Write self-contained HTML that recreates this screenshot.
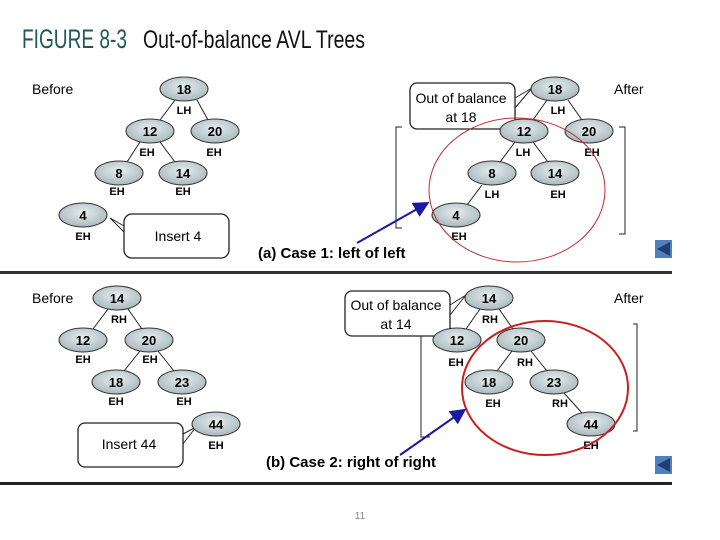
<!DOCTYPE html>
<html><head><meta charset="utf-8"><style>
html,body{margin:0;padding:0;background:#fff;}
svg{display:block;}
text{font-family:"Liberation Sans",sans-serif;}
.n{font-weight:bold;font-size:13px;text-anchor:middle;}
.b{font-weight:bold;font-size:11px;text-anchor:middle;}
.t{font-size:14px;}
</style></head><body>
<svg width="720" height="540" viewBox="0 0 720 540" xmlns="http://www.w3.org/2000/svg">
<defs>
<radialGradient id="g" cx="50%" cy="40%" r="60%">
<stop offset="0" stop-color="#e6eef0"/><stop offset="1" stop-color="#a9b8bd"/>
</radialGradient>
<marker id="ar" markerWidth="8" markerHeight="8" refX="6" refY="4" orient="auto"><path d="M0,0 L8,4 L0,8 z" fill="#1a1aa0"/></marker>
</defs>
<text x="22" y="48" font-size="27" fill="#1e5a5c" textLength="105" lengthAdjust="spacingAndGlyphs">FIGURE 8-3</text>
<text x="143" y="48" font-size="25" fill="#111" textLength="222" lengthAdjust="spacingAndGlyphs">Out-of-balance AVL Trees</text>

<g stroke="#222" stroke-width="1" fill="none">
<line x1="175" y1="100" x2="160" y2="120"/><line x1="197" y1="100" x2="208" y2="120"/>
<line x1="140" y1="142" x2="127" y2="162"/><line x1="160" y1="142" x2="175" y2="162"/>
<line x1="547" y1="100" x2="533" y2="120"/><line x1="568" y1="100" x2="582" y2="120"/>
<line x1="515" y1="142" x2="500" y2="162"/><line x1="533" y1="142" x2="548" y2="162"/>
<line x1="482" y1="185" x2="467" y2="205"/>
<line x1="108" y1="309" x2="93" y2="329"/><line x1="128" y1="309" x2="142" y2="329"/>
<line x1="140" y1="351" x2="124" y2="371"/><line x1="158" y1="351" x2="174" y2="371"/>
<line x1="480" y1="309" x2="466" y2="329"/><line x1="499" y1="309" x2="513" y2="329"/>
<line x1="512" y1="351" x2="497" y2="371"/><line x1="531" y1="351" x2="547" y2="371"/>
<line x1="564" y1="393" x2="582" y2="413"/>
<path d="M402 127 H396 V228 H402"/><path d="M619 127 H625 V234 H619"/>
<path d="M421 336 V437 H430"/><path d="M633 324 H637 V431 H633"/>
<rect x="124" y="214" width="105" height="44" rx="8" stroke-width="1.3"/>
<path d="M124 226 L110 218 L124 232" />
<rect x="410" y="83" width="105" height="46" rx="7" stroke-width="1.3"/>
<path d="M515 98 L532 88 L515 108"/>
<rect x="78" y="423" width="105" height="44" rx="7" stroke-width="1.3"/>
<path d="M183 434 L196 427 L183 444"/>
<rect x="345" y="291" width="105" height="45" rx="7" stroke-width="1.3"/>
<path d="M450 305 L466 295 L450 315"/>
</g>

<g fill="url(#g)" stroke="#333" stroke-width="1">
<ellipse cx="184" cy="89" rx="24" ry="12"/><ellipse cx="150" cy="131" rx="24" ry="12"/>
<ellipse cx="215" cy="131" rx="24" ry="12"/><ellipse cx="119" cy="173" rx="24" ry="12"/>
<ellipse cx="183" cy="173" rx="24" ry="12"/><ellipse cx="83" cy="215" rx="24" ry="12"/>
<ellipse cx="555" cy="89" rx="24" ry="12"/><ellipse cx="524" cy="131" rx="24" ry="12"/>
<ellipse cx="589" cy="131" rx="24" ry="12"/><ellipse cx="492" cy="173" rx="24" ry="12"/>
<ellipse cx="555" cy="173" rx="24" ry="12"/><ellipse cx="456" cy="215" rx="24" ry="12"/>
<ellipse cx="117" cy="298" rx="24" ry="12"/><ellipse cx="83" cy="340" rx="24" ry="12"/>
<ellipse cx="149" cy="340" rx="24" ry="12"/><ellipse cx="116" cy="382" rx="24" ry="12"/>
<ellipse cx="182" cy="382" rx="24" ry="12"/><ellipse cx="216" cy="424" rx="24" ry="12"/>
<ellipse cx="489" cy="298" rx="24" ry="12"/><ellipse cx="457" cy="340" rx="24" ry="12"/>
<ellipse cx="521" cy="340" rx="24" ry="12"/><ellipse cx="489" cy="382" rx="24" ry="12"/>
<ellipse cx="554" cy="382" rx="24" ry="12"/><ellipse cx="591" cy="424" rx="24" ry="12"/>
</g>

<g>
<text class="n" x="184" y="94">18</text><text class="b" x="184" y="114">LH</text>
<text class="n" x="150" y="136">12</text><text class="b" x="147" y="156">EH</text>
<text class="n" x="215" y="136">20</text><text class="b" x="214" y="156">EH</text>
<text class="n" x="119" y="178">8</text><text class="b" x="117" y="195">EH</text>
<text class="n" x="183" y="178">14</text><text class="b" x="183" y="195">EH</text>
<text class="n" x="83" y="220">4</text><text class="b" x="83" y="240">EH</text>

<text class="n" x="555" y="94">18</text><text class="b" x="558" y="114">LH</text>
<text class="n" x="524" y="136">12</text><text class="b" x="523" y="156">LH</text>
<text class="n" x="589" y="136">20</text><text class="b" x="592" y="156">EH</text>
<text class="n" x="492" y="178">8</text><text class="b" x="492" y="198">LH</text>
<text class="n" x="555" y="178">14</text><text class="b" x="558" y="198">EH</text>
<text class="n" x="456" y="220">4</text><text class="b" x="459" y="240">EH</text>

<text class="n" x="117" y="303">14</text><text class="b" x="119" y="323">RH</text>
<text class="n" x="83" y="345">12</text><text class="b" x="83" y="363">EH</text>
<text class="n" x="149" y="345">20</text><text class="b" x="150" y="363">EH</text>
<text class="n" x="116" y="387">18</text><text class="b" x="116" y="405">EH</text>
<text class="n" x="182" y="387">23</text><text class="b" x="184" y="405">EH</text>
<text class="n" x="216" y="429">44</text><text class="b" x="216" y="449">EH</text>

<text class="n" x="489" y="303">14</text><text class="b" x="490" y="323">RH</text>
<text class="n" x="457" y="345">12</text><text class="b" x="456" y="366">EH</text>
<text class="n" x="521" y="345">20</text><text class="b" x="525" y="366">RH</text>
<text class="n" x="489" y="387">18</text><text class="b" x="493" y="407">EH</text>
<text class="n" x="554" y="387">23</text><text class="b" x="560" y="407">RH</text>
<text class="n" x="591" y="429">44</text><text class="b" x="591" y="449">EH</text>
</g>

<g class="t">
<text x="32" y="94">Before</text><text x="614" y="94">After</text>
<text x="32" y="303">Before</text><text x="614" y="303">After</text>
<text x="178" y="241" text-anchor="middle">Insert 4</text>
<text x="129" y="449" text-anchor="middle">Insert 44</text>
<text x="461" y="103" text-anchor="middle">Out of balance</text>
<text x="461" y="122" text-anchor="middle">at 18</text>
<text x="396" y="310" text-anchor="middle">Out of balance</text>
<text x="396" y="329" text-anchor="middle">at 14</text>
</g>
<text x="258" y="258" font-size="15" font-weight="bold">(a) Case 1: left of left</text>
<text x="266" y="467" font-size="15" font-weight="bold">(b) Case 2: right of right</text>

<ellipse cx="517" cy="190" rx="88" ry="72" fill="none" stroke="#c03030" stroke-width="1"/>
<ellipse cx="545" cy="388" rx="83" ry="67" fill="none" stroke="#c82020" stroke-width="2"/>

<line x1="357" y1="243" x2="426" y2="204" stroke="#1a1aa0" stroke-width="2" marker-end="url(#ar)"/>
<line x1="400" y1="455" x2="463" y2="411" stroke="#1a1aa0" stroke-width="2" marker-end="url(#ar)"/>

<rect x="0" y="271" width="672" height="3" fill="#333"/>
<rect x="0" y="482" width="672" height="3" fill="#222"/>

<rect x="655" y="240" width="17" height="18" fill="#4f7fbf"/>
<path d="M657 249 L670 242 L670 256 z" fill="#1f3f6f"/>
<rect x="655" y="456" width="17" height="18" fill="#4f7fbf"/>
<path d="M657 465 L670 458 L670 472 z" fill="#1f3f6f"/>

<text x="360" y="519" font-size="10" fill="#888" text-anchor="middle">11</text>
</svg>
</body></html>
